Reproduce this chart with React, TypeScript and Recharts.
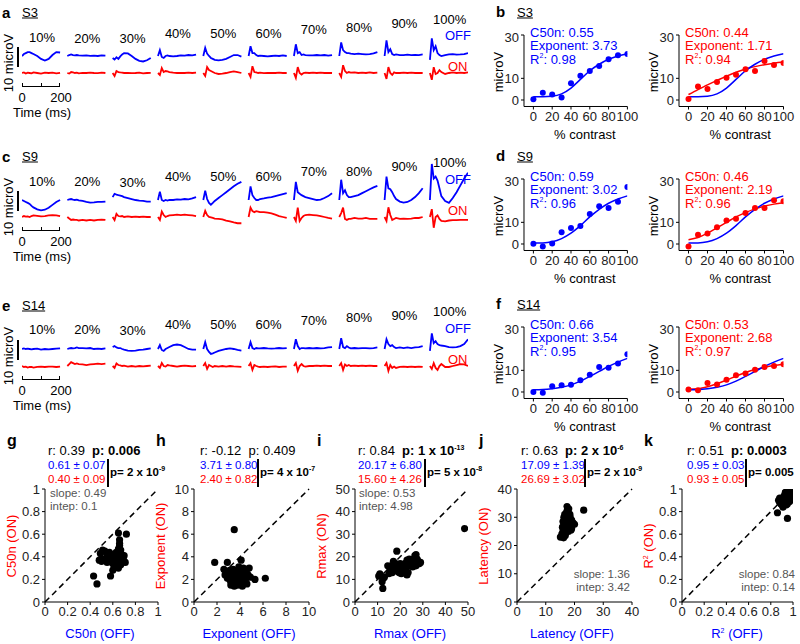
import React from "react"
import { LineChart, Line, ComposedChart, Scatter, ScatterChart, XAxis, YAxis, ReferenceLine } from "recharts"

const FONT = '"Liberation Sans", Arial, sans-serif'
const BLUE = "#0000ff"
const RED = "#ff0000"
const GRAY = "#555555"

// ---- VEP traces (microV) ----
const CONTRASTS = ["10%", "20%", "30%", "40%", "50%", "60%", "70%", "80%", "90%", "100%"]
const T_MS = [0, 10, 20, 30, 40, 50, 60, 80, 100, 120, 140, 160, 180, 200]

const A_OFF = [
    [0, 1, 1.5, 2, 2, 1.5, 1, 0, -1.5, -2.3, -1.5, 0.5, 2, 1.8],
    [0, 0.5, 0.8, 0.5, 0.3, 0.5, 0.3, 0.2, 0.3, 0.1, 0.2, 0, 0.3, 0.2],
    [-1, -1.8, -0.7, -1.5, -0.2, 0.8, 1.5, 1.3, 0, -1.5, -2.5, -2.8, -2.2, -1],
    [0, 3, -0.5, -1, 0, 0.3, 0, -0.2, 0, 0.3, 0.2, 0.5, 0.3, 0.7],
    [0, 4.2, 1.2, 0, -1, -1.5, -2, -2.2, -2, -1.5, -0.5, 0.5, 0.5, -0.3],
    [0, 5, 1.5, 1.5, 0.5, 0, 0.2, 0, -0.2, 0, 0.2, 0, 0.3, 0],
    [0, 6, 1.5, 2, 0.5, 0.8, 0.5, 0.3, 0.3, 0.5, 0.3, 0.5, 0.2, 0.5],
    [0, 7, 3, 2, 1.5, 1.5, 1.2, 1, 1.2, 1, 0.8, 1, 1.3, 2],
    [0, 8, 2, 3.5, 1, 0.5, 0.8, 0.5, 0.5, 0.7, 0.5, 0.6, 0.5, 0.8],
    [-2, 9, 3, 5, 1.5, 0.5, 0, 0.5, 0.8, 1, 0.7, 0.8, 1, 1.5],
]
const A_ON = [
    [0, 0.3, -0.3, 0.2, 0, -0.2, 0.3, 0, -0.3, 0.2, 0, 0.2, -0.2, 0.1],
    [0, -0.3, 0.5, 0.3, 0, 0.2, -0.2, 0.1, 0, 0.2, 0, -0.1, 0.2, 0],
    [0, -1.5, 1, 0.5, 0.3, 0.2, 0, 0.1, -0.1, 0, 0.2, -0.2, 0, 0.1],
    [0, -1, 2.5, 0.5, 1, 0.8, 0.5, 0.2, 0, 0.1, 0, 0.2, 0, 0.2],
    [0, -1.5, 3, 1.5, 1, 0.5, 0, -0.5, -0.3, 0, 0.5, 0.8, 0.5, 0],
    [0, -2, 3.5, 0.5, 0.3, 0, 0.2, -0.1, 0, 0.1, 0, 0.2, 0, 0],
    [0, -2.5, 3, 0, -0.8, 0, 0.2, 0, 0.2, 0, 0.2, 0, 0.1, 0],
    [0, -2, 4, 1, 0, 0.5, 0.2, 0.3, 0, 0.2, 0, 0.3, 0, 0.2],
    [0, -3, 3, 0, -1, 0.3, 0, 0, 0.2, 0, 0.2, 0, 0.1, 0],
    [0, -3.5, 3, -0.5, 0, 1.5, 0.5, -0.5, 0, 0.3, 0, 0.2, 0, 0.3],
]
const C_OFF = [
    [0, -0.5, -1, -1.5, -2, -3, -3.8, -4.8, -5.3, -5, -4, -2.5, -1, 0],
    [0, 0.3, 0.5, 0.2, 0, 0.2, -0.2, -0.5, -1, -1.3, -1.2, -1, -1, -0.8],
    [1.5, 3.2, 2.8, 2.5, 2.3, 2, 1.5, 1, 0.5, 0, -0.3, -0.5, -0.8, -0.8],
    [0, 4.3, 0, -0.5, 0, -0.3, 0, 0, 0.3, 0.2, 0.5, 0.3, 0.8, 1.5],
    [0, 4.8, 0.5, -1.5, -2.4, -1.5, -0.5, 1, 2.5, 4, 5.5, 7, 8.3, 9.3],
    [0, 7, 2.5, 1, 0, 0, 0.5, 0.8, 1.2, 1.5, 2, 2.5, 3, 3.5],
    [0, 9.3, 4, 3.2, 2.5, 2, 1.5, 1, 0.5, 0, 0.2, 1, 2, 3.5],
    [0, 10.4, 3.5, 5, 2.5, 1.5, 1.5, 2, 2.5, 3.5, 4.5, 5.5, 6.5, 7.2],
    [0, 12, 6, 5.5, 4, 2, 0.5, -0.8, -1.3, -1, 0, 1.5, 3.5, 6],
    [0, 18.5, 11, 12, 10, 6, 2, -0.5, -1.5, 1, 4, 7.5, 11, 14],
]
const C_ON = [
    [0, 0.5, 0.2, 0.3, 0, 0.5, 0.8, 0.6, 0.3, 0.5, 0.8, 1, 0.8, 0.5],
    [0, -0.8, -1.5, -1.3, -1.5, -1.5, -1.8, -1.5, -1.8, -1.5, -1.8, -1.5, -1.3, -1.5],
    [0, -1.6, 1.6, 0.5, 0.3, 0.5, 0, 0.3, 0, 0.2, 0, 0.2, 0, 0],
    [0, -1.5, 2.8, 1, 0, 0.5, 0.8, 1, 1.2, 1, 1.2, 1, 0.8, 0.5],
    [0, 3.2, 1, 0, -0.2, -0.5, -0.8, -1, -1.2, -1.8, -2.3, -2.8, -3.2, -3.2],
    [0, 4.8, 3, 2.5, 3, 2.8, 2.5, 2.5, 2.2, 1.8, 1.2, 0.5, 0, -0.5],
    [0, -2, 4.8, -2, -0.5, 0.5, 1, 1.2, 1, 0.8, 0.5, 0, -0.5, -0.8],
    [0, 2, 4.8, -1, -1.5, -1, -1, -0.5, -0.8, -0.8, -0.5, -1, -1, -1],
    [0, -2, 5, 1, -1.5, -1, -0.5, -1, -0.8, -1, -0.8, -0.5, -0.5, 0],
    [0, 4, -5.5, 0, 0.8, -1, -2, -2.2, -1.8, -1.6, -1.6, -1.5, -1.5, -1.5],
]
const E_OFF = [
    [0, 0.3, 0, 0.2, 0, -0.2, 0, 0.2, -0.3, 0, -0.2, 0, 0.2, 0.3],
    [0, 0.3, 0.5, 0.3, 0.5, 0.8, 0.5, 0.5, 0.3, 0.5, 0, 0.2, 0, 0.3],
    [1, 1.5, 0.8, 0.5, 0.5, 0, -0.3, -0.8, -1, -0.8, -0.5, -0.3, 0, 0.3],
    [0, 2, -0.5, -1, 0, 0.5, 1, 2, 2.3, 2, 1, 0, -0.3, -0.3],
    [0, 3.5, 0, -1.5, -2.5, -2.2, -1.8, -1, -0.5, 0, 0.3, 0, -0.5, -0.8],
    [0, 3.5, 0.5, 0, 0.5, 0.3, 0.3, 0.5, 0.3, 0.2, 0.3, 0.5, 0.3, 0.5],
    [0, 5, 1.5, 0, 0.5, 0.5, 0.3, 0.5, 0.3, 0.5, 0.3, 0.5, 0.8, 1],
    [0, 5.5, 1, 0.5, 1.5, 0.8, 0.3, 0.5, 0.3, 0.5, 0.5, 0.3, 0.5, 0.8],
    [0, 5, 2.5, 1.5, 2, 1, 0.5, 0.8, 0.5, 0.8, 0.5, 0.8, 1, 1.5],
    [-1, 8, 3, 4, 2.5, 2, 1.8, 1.5, 1, 0.8, 1, 1.5, 2.5, 5],
]
const E_ON = [
    [0, -0.5, -0.3, -0.8, -0.5, -0.5, -0.8, -0.5, -0.3, -0.5, -0.3, -0.3, -0.5, -0.3],
    [0, 1, 2, 1.5, 1, 1.3, 1, 0.8, 0.5, 0.8, 1, 1.2, 1, 1.2],
    [0, -1, 1.3, 0.5, 0.3, 0, 0.2, -0.3, 0, -0.3, 0, -0.2, 0, 0.2],
    [0, -1, 1.5, 0, -0.3, 0.5, 0.3, 0, -0.3, 0, 0.2, 0, -0.2, 0],
    [0, 1.5, -1.5, 0.5, 0, -0.5, 0, -0.3, 0, -0.3, 0, -0.2, -0.3, -0.5],
    [0, 1.5, -2, 0.5, 0, -0.3, -0.5, -0.3, -0.5, -0.3, -0.2, -0.5, -0.3, -0.3],
    [0, 1.5, -2.5, 0, 1, 0, -0.3, 0, 0, 0.2, 0, 0.2, 0, 0],
    [0, 1.5, -2, 0.8, 0, 0.5, 0, 0.2, 0, 0.2, 0, 0.2, 0, 0],
    [0, 1.5, -2.5, 0.5, -1, -0.3, -1, -0.5, -0.3, -0.5, -0.3, -0.5, -0.3, -0.5],
    [0, -1.5, 1.5, -1, -2, 0, 1, -0.5, -0.5, 0, 0.5, 1, 0.8, 0],
]
const A_LABEL_Y = [37, 38, 38, 33, 33, 33, 29, 27, 23, 19]
const C_LABEL_Y = [181, 181, 182, 176, 176, 176, 171, 171, 166, 162]
const E_LABEL_Y = [329, 329, 330, 324, 324, 324, 320, 317, 315, 311]

// ---- contrast response (b, d, f) ----
const CONTRAST_X = [0, 10, 20, 30, 40, 50, 60, 70, 80, 90, 100]
const B_OFF = [0.3, 3.4, 2.5, 1.2, 7.7, 11.2, 13.4, 15.7, 18.8, 20.6, 21.2]
const B_OFF_FIT = [1.5, 1.5, 1.7, 2.8, 5.5, 9.5, 13.5, 16.5, 18.8, 20.3, 21.3]
const B_ON = [0.5, 6.2, 5.1, 8.3, 10.3, 11.7, 14.2, 13.4, 18, 16.2, 17.1]
const B_ON_FIT = [2.5, 4.8, 7, 9, 11, 12.8, 14.3, 15.4, 16.3, 17, 17.5]
const D_OFF = [0.15, -1.1, 0.2, 5.4, 7.4, 8.3, 13.8, 17.4, 16.6, 19.5, 26.3]
const D_OFF_FIT = [0.5, 0.5, 1, 2.5, 5, 8.5, 12.5, 16, 18.8, 20.8, 22.2]
const D_ON = [-1.1, 4.3, 4.8, 7.7, 10.8, 11.7, 14.3, 16.6, 16.6, 20.2, 19.7]
const D_ON_FIT = [2, 3, 5, 7.5, 10, 12.5, 14.5, 16.2, 17.5, 18.4, 19]
const F_OFF = [0, -0.3, 2.6, 3.1, 3.4, 5.4, 8, 11.5, 11.2, 13.1, 17.4]
const F_OFF_FIT = [1, 1.1, 1.5, 2.2, 3.3, 5, 7.2, 9.5, 11.8, 13.8, 15.5]
const F_ON = [1.2, 0.8, 4.2, 3.5, 5.7, 7.7, 8.5, 10.3, 11.5, 12, 12.8]
const F_ON_FIT = [1.3, 1.5, 2.4, 3.8, 5.5, 7.3, 9, 10.4, 11.4, 12.2, 12.8]

// ---- population scatter (g-k): [OFF, ON] ----
const G_PTS = [
    [0.43, 0.23], [0.46, 0.16], [0.58, 0.23], [0.72, 0.6], [0.65, 0.61], [0.66, 0.55], [0.66, 0.5], [0.65, 0.47],
    [0.51, 0.46], [0.49, 0.43], [0.53, 0.45], [0.55, 0.42], [0.57, 0.44], [0.59, 0.42], [0.48, 0.37], [0.5, 0.36],
    [0.52, 0.38], [0.54, 0.37], [0.56, 0.39], [0.58, 0.37], [0.6, 0.4], [0.62, 0.39], [0.64, 0.41], [0.66, 0.43],
    [0.68, 0.42], [0.69, 0.39], [0.7, 0.36], [0.71, 0.35], [0.68, 0.35], [0.66, 0.37], [0.64, 0.34], [0.63, 0.32],
    [0.61, 0.3], [0.6, 0.28], [0.65, 0.3], [0.67, 0.33], [0.62, 0.36], [0.57, 0.36], [0.6, 0.34], [0.67, 0.46],
    [0.63, 0.44], [0.55, 0.35], [0.7, 0.41], [0.66, 0.52], [0.61, 0.37],
]
const H_PTS = [
    [3.5, 6.4], [1.8, 3.5], [2.9, 3.5], [4.1, 3.7], [6.2, 2.1], [5.3, 2.0],
    [2.6, 2.9], [2.8, 2.6], [3.0, 2.3], [3.1, 2.0], [3.2, 1.8], [3.3, 2.6], [3.4, 2.9], [3.5, 2.2], [3.6, 1.7],
    [3.7, 2.5], [3.8, 2.0], [3.9, 1.6], [4.0, 2.8], [4.1, 2.3], [4.2, 1.9], [4.3, 3.0], [4.4, 2.5], [4.5, 2.1],
    [4.6, 2.9], [4.7, 2.4], [4.8, 3.0], [4.9, 2.2], [3.2, 1.5], [3.5, 1.4], [3.8, 1.5], [4.2, 1.4], [2.9, 2.1],
    [3.3, 2.2], [3.6, 2.7], [4.0, 2.1], [4.5, 1.7], [3.1, 2.8], [3.9, 3.1], [4.3, 2.6], [3.4, 1.9], [3.7, 1.8],
    [2.7, 2.4], [4.6, 1.6],
]
const I_PTS = [
    [48.5, 32.5], [12.3, 6.0], [10.5, 11.5], [11, 12.5], [12.5, 10.5], [12, 9], [18.5, 22.5], [17, 18], [16, 16],
    [15, 12.5], [16.5, 13], [17.5, 15], [18, 14], [19, 16], [19.5, 13], [20, 15], [20.5, 12.5], [21, 16.5],
    [22, 17], [22.5, 15], [23, 18.5], [23.5, 13], [24, 16], [24.5, 18], [25, 17], [25.5, 15.5], [26, 19],
    [26.5, 20.5], [27, 21], [27.5, 19], [28, 18], [28.5, 17], [29, 17.5], [27, 16], [14.5, 16], [15.5, 14],
    [18, 17], [20, 17], [21, 14], [23, 12], [24, 19], [13, 11], [16, 15], [19, 13.5], [22, 16], [25, 18.5],
]
const J_PTS = [
    [23.2, 32.5], [17.4, 33.8], [18, 33], [17.8, 31.5], [15.1, 23], [16.2, 22.7], [16.8, 23.5], [15.6, 24],
    [16, 25], [16.5, 26], [17, 27], [17.5, 28], [18, 29], [18.5, 30], [17.2, 30.5], [16.8, 29], [17.6, 26.5],
    [18.2, 27.5], [19.5, 28], [20, 27.5], [19, 26], [18.8, 25.5], [17, 24.5], [16.4, 27.5], [16, 28.5],
    [16.6, 31], [17.3, 32], [18.4, 31], [19, 29], [17.9, 25], [16.9, 25.8], [17.7, 29.5], [15.8, 26.5],
    [16.3, 30], [18.6, 27],
]
const K_PTS = [
    [0.86, 0.79], [0.95, 0.74], [0.87, 0.9], [0.88, 0.88], [0.89, 0.91], [0.9, 0.89], [0.91, 0.92], [0.92, 0.9],
    [0.93, 0.93], [0.94, 0.91], [0.95, 0.95], [0.96, 0.94], [0.97, 0.97], [0.98, 0.98], [0.96, 0.97], [0.94, 0.96],
    [0.93, 0.88], [0.95, 0.87], [0.97, 0.92], [0.92, 0.94], [0.9, 0.86], [0.91, 0.84], [0.94, 0.86], [0.96, 0.9],
    [0.98, 0.95], [0.89, 0.87], [0.93, 0.97], [0.95, 0.92], [0.97, 0.89], [0.92, 0.87], [0.96, 0.99], [0.94, 0.94],
    [0.91, 0.89], [0.88, 0.92],
]

// ---- layout helpers ----
const PX_UV = 1.95
const ON_SHIFT = 17 / PX_UV
const GAP_MS = 238

type TxtProps = {
    x: number
    y: number
    size?: number
    color?: string
    bold?: boolean
    anchor?: "start" | "middle" | "end"
    rotate?: boolean
    underline?: boolean
    children: React.ReactNode
}

const Txt = ({ x, y, size = 13, color = "#000", bold, anchor = "start", rotate, underline, children }: TxtProps) => {
    const ax = anchor === "start" ? "0" : anchor === "middle" ? "-50%" : "-100%"
    return (
        <div
            style={{
                position: "absolute",
                left: x,
                top: y,
                fontSize: size,
                color,
                fontWeight: bold ? "bold" : "normal",
                whiteSpace: "nowrap",
                lineHeight: 1,
                textDecoration: underline ? "underline" : "none",
                transform: rotate ? "translate(-50%, -50%) rotate(-90deg)" : `translate(${ax}, -50%)`,
            }}
        >
            {children}
        </div>
    )
}

// superscript that does not grow the line box
const Sup = ({ children, size = 7 }: { children: React.ReactNode; size?: number }) => (
    <span style={{ fontSize: size, position: "relative", top: -size * 0.75, lineHeight: 0 }}>{children}</span>
)

const Bar = ({ x, y, w, h }: { x: number; y: number; w: number; h: number }) => (
    <div style={{ position: "absolute", left: x, top: y, width: w, height: h, background: "#000" }} />
)

const TraceRow = ({ baseline, off, on, labelY, tag, subject }: any) => (
    <>
        <Txt x={2} y={baseline - 44} size={15} bold>{tag}</Txt>
        <Txt x={22} y={baseline - 44} underline>{subject}</Txt>
        <div style={{ position: "absolute", left: 22, top: baseline - 45 }}>
            <LineChart width={446} height={75} margin={{ top: 0, right: 0, bottom: 0, left: 0 }}>
                <XAxis type="number" dataKey="x" domain={[0, 9 * GAP_MS + 200]} hide />
                <YAxis type="number" domain={[-30 / PX_UV, 45 / PX_UV]} hide allowDataOverflow />
                {off.map((vals: number[], i: number) => (
                    <Line
                        key={"off" + i}
                        data={T_MS.map((t, j) => ({ x: t + i * GAP_MS, v: vals[j] }))}
                        dataKey="v"
                        stroke={BLUE}
                        strokeWidth={1.8}
                        dot={false}
                        isAnimationActive={false}
                    />
                ))}
                {on.map((vals: number[], i: number) => (
                    <Line
                        key={"on" + i}
                        data={T_MS.map((t, j) => ({ x: t + i * GAP_MS, v: vals[j] - ON_SHIFT }))}
                        dataKey="v"
                        stroke={RED}
                        strokeWidth={1.8}
                        dot={false}
                        isAnimationActive={false}
                    />
                ))}
            </LineChart>
        </div>
        {CONTRASTS.map((c, i) => (
            <Txt key={c} x={22 + i * 45.3 + 20} y={labelY[i]} anchor="middle">{c}</Txt>
        ))}
        <Txt x={445} y={baseline - 21} color={BLUE}>OFF</Txt>
        <Txt x={448} y={baseline + 10} color={RED}>ON</Txt>
        <Bar x={17} y={baseline - 9} w={1.5} h={19.5} />
        <Txt x={8} y={baseline + 7} rotate>10 microV</Txt>
        <Bar x={22} y={baseline + 30} w={38} h={1} />
        <Bar x={22} y={baseline + 27} w={1} h={3} />
        <Bar x={41} y={baseline + 27} w={1} h={3} />
        <Bar x={59} y={baseline + 27} w={1} h={3} />
        <Txt x={22} y={baseline + 41} anchor="middle">0</Txt>
        <Txt x={61} y={baseline + 41} anchor="middle">200</Txt>
        <Txt x={13} y={baseline + 56}>Time (ms)</Txt>
    </>
)

const dotShape = (color: string, r: number) => (p: any) => <circle cx={p.cx} cy={p.cy} r={r} fill={color} />

const FitPlot = ({ pl, pt, pw, pts, fit, overlay, color, stats }: any) => {
    const ML = 30
    const MT = 6
    const MR = 14
    const XH = 22
    const ph = 71.5
    const dots = CONTRAST_X.map((x, i) => ({ x, y: pts[i] }))
    const curve = CONTRAST_X.map((x, i) => ({ x, y: fit[i] }))
    const over = overlay ? CONTRAST_X.map((x, i) => ({ x, y: overlay[i] })) : null
    return (
        <>
            <div style={{ position: "absolute", left: pl - ML, top: pt - MT }}>
                <ComposedChart width={pw + ML + MR} height={ph + MT + XH} margin={{ top: MT, right: MR, bottom: 0, left: 0 }}>
                    <XAxis
                        type="number"
                        dataKey="x"
                        domain={[-10, 100]}
                        ticks={[0, 20, 40, 60, 80, 100]}
                        interval={0}
                        height={XH}
                        tickSize={3}
                        tick={{ fontSize: 13, fill: "#222" }}
                        stroke="#000"
                        allowDataOverflow
                    />
                    <YAxis
                        type="number"
                        dataKey="y"
                        domain={[-3, 30]}
                        ticks={[0, 10, 20, 30]}
                        width={ML}
                        tickSize={3}
                        tick={{ fontSize: 13, fill: "#222" }}
                        stroke="#000"
                        allowDataOverflow
                    />
                    <Scatter data={dots} dataKey="y" shape={dotShape(color, 3)} isAnimationActive={false} />
                    <Line data={curve} dataKey="y" type="monotone" stroke={color} strokeWidth={1.5} dot={false} isAnimationActive={false} />
                    {over && (
                        <Line data={over} dataKey="y" type="monotone" stroke={BLUE} strokeWidth={1.5} dot={false} isAnimationActive={false} />
                    )}
                </ComposedChart>
            </div>
            <Txt x={pl + 6.5} y={pt - 3.5} color={color}>C50n: {stats[0]}</Txt>
            <Txt x={pl + 6.5} y={pt + 10} color={color}>Exponent: {stats[1]}</Txt>
            <Txt x={pl + 6.5} y={pt + 23.5} color={color}>
                R<Sup>2</Sup>: {stats[2]}
            </Txt>
            <Txt x={pl - 26} y={pt + 37} rotate>microV</Txt>
            <Txt x={pl + 9.5 + pw / 2} y={pt + 99} anchor="middle">% contrast</Txt>
        </>
    )
}

const FitRow = ({ top, tag, subject, off, offFit, on, onFit, offStats, onStats }: any) => (
    <>
        <Txt x={496} y={top - 24} size={15} bold>{tag}</Txt>
        <Txt x={517} y={top - 23} underline>{subject}</Txt>
        <FitPlot pl={523.6} pt={top} pw={103.4} pts={off} fit={offFit} color={BLUE} stats={offStats} />
        <FitPlot pl={678.5} pt={top} pw={104.5} pts={on} fit={onFit} overlay={offFit} color={RED} stats={onStats} />
    </>
)

const ScatterPanel = ({ pl, pw, max, ticks, pts, xLabel, yLabel, tag }: any) => {
    const pt = 489
    const ph = 113
    const ML = 34
    const MT = 6
    const MR = 8
    const XH = 22
    const data = pts.map((p: number[]) => ({ x: p[0], y: p[1] }))
    return (
        <>
            <Txt x={pl - 38} y={441} size={16} bold>{tag}</Txt>
            <div style={{ position: "absolute", left: pl - ML, top: pt - MT }}>
                <ScatterChart width={pw + ML + MR} height={ph + MT + XH} margin={{ top: MT, right: MR, bottom: 0, left: 0 }}>
                    <XAxis
                        type="number"
                        dataKey="x"
                        domain={[0, max]}
                        ticks={ticks}
                        interval={0}
                        height={XH}
                        tickSize={3}
                        tick={{ fontSize: 13, fill: "#222" }}
                        stroke="#000"
                        allowDataOverflow
                    />
                    <YAxis
                        type="number"
                        dataKey="y"
                        domain={[0, max]}
                        ticks={ticks}
                        interval={0}
                        width={ML}
                        tickSize={3}
                        tick={{ fontSize: 13, fill: "#222" }}
                        stroke="#000"
                        allowDataOverflow
                    />
                    <ReferenceLine
                        segment={[{ x: 0, y: 0 }, { x: max, y: max }]}
                        stroke="#000"
                        strokeWidth={1.5}
                        strokeDasharray="6 4"
                    />
                    <Scatter data={data} shape={dotShape("#000", 3.6)} isAnimationActive={false} />
                </ScatterChart>
            </div>
            <Txt x={pl + 55} y={633} anchor="middle" color={BLUE}>{xLabel}</Txt>
            <Txt x={pl - 34} y={546} rotate color={RED}>{yLabel}</Txt>
        </>
    )
}

const Stats = ({ x, bar, r, p, pBold, off, on, pDiff }: any) => (
    <>
        <Txt x={x} y={450}>
            r: {r}&nbsp;&nbsp;<span style={{ fontWeight: pBold ? "bold" : "normal" }}>p: {p}</span>
        </Txt>
        <Txt x={x} y={466} size={11.5} color={BLUE}>{off}</Txt>
        <Txt x={x} y={480} size={11.5} color={RED}>{on}</Txt>
        <Bar x={bar} y={459} w={1.5} h={28} />
        <Txt x={bar + 3} y={473} size={11.5} bold>{pDiff}</Txt>
    </>
)

const Slope = ({ x, y, anchor = "start", slope, intep }: any) => (
    <>
        <Txt x={x} y={y} size={11.5} color={GRAY} anchor={anchor}>slope: {slope}</Txt>
        <Txt x={x} y={y + 13} size={11.5} color={GRAY} anchor={anchor}>intep: {intep}</Txt>
    </>
)

export default function App() {
    return (
        <div style={{ position: "absolute", left: 0, top: 0, width: 800, height: 644, background: "#fff", fontFamily: FONT, overflow: "hidden" }}>
            <TraceRow baseline={56} off={A_OFF} on={A_ON} labelY={A_LABEL_Y} tag="a" subject="S3" />
            <TraceRow baseline={200} off={C_OFF} on={C_ON} labelY={C_LABEL_Y} tag="c" subject="S9" />
            <TraceRow baseline={349} off={E_OFF} on={E_ON} labelY={E_LABEL_Y} tag="e" subject="S14" />

            <FitRow top={35} tag="b" subject="S3" off={B_OFF} offFit={B_OFF_FIT} on={B_ON} onFit={B_ON_FIT}
                offStats={["0.55", "3.73", "0.98"]} onStats={["0.44", "1.71", "0.94"]} />
            <FitRow top={179} tag="d" subject="S9" off={D_OFF} offFit={D_OFF_FIT} on={D_ON} onFit={D_ON_FIT}
                offStats={["0.59", "3.02", "0.96"]} onStats={["0.46", "2.19", "0.96"]} />
            <FitRow top={327} tag="f" subject="S14" off={F_OFF} offFit={F_OFF_FIT} on={F_ON} onFit={F_ON_FIT}
                offStats={["0.66", "3.54", "0.95"]} onStats={["0.53", "2.68", "0.97"]} />

            <ScatterPanel pl={45} pw={113} max={1} ticks={[0, 0.2, 0.4, 0.6, 0.8, 1]} pts={G_PTS} tag="g"
                xLabel="C50n (OFF)" yLabel="C50n (ON)" />
            <ScatterPanel pl={194} pw={115} max={10} ticks={[0, 2, 4, 6, 8, 10]} pts={H_PTS} tag="h"
                xLabel="Exponent (OFF)" yLabel="Exponent (ON)" />
            <ScatterPanel pl={355} pw={113} max={50} ticks={[0, 10, 20, 30, 40, 50]} pts={I_PTS} tag="i"
                xLabel="Rmax (OFF)" yLabel="Rmax (ON)" />
            <ScatterPanel pl={517} pw={115} max={40} ticks={[0, 10, 20, 30, 40]} pts={J_PTS} tag="j"
                xLabel="Latency (OFF)" yLabel="Latency (ON)" />
            <ScatterPanel pl={682} pw={111} max={1} ticks={[0, 0.2, 0.4, 0.6, 0.8, 1]} pts={K_PTS} tag="k"
                xLabel={<>R<Sup>2</Sup> (OFF)</>} yLabel={<>R<Sup>2</Sup> (ON)</>} />

            <Stats x={48} bar={107} r="0.39" p="0.006" pBold off="0.61 ± 0.07" on="0.40 ± 0.09" pDiff={<>p= 2 x 10<Sup>-9</Sup></>} />
            <Slope x={50} y={494} slope="0.49" intep="0.1" />
            <Stats x={200} bar={257} r="-0.12" p="0.409" off="3.71 ± 0.80" on="2.40 ± 0.82" pDiff={<>p= 4 x 10<Sup>-7</Sup></>} />
            <Stats x={358} bar={424} r="0.84" p={<>1 x 10<Sup>-13</Sup></>} pBold off="20.17 ± 6.80" on="15.60 ± 4.26" pDiff={<>p= 5 x 10<Sup>-8</Sup></>} />
            <Slope x={359} y={494} slope="0.53" intep="4.98" />
            <Stats x={521} bar={584} r="0.63" p={<>2 x 10<Sup>-6</Sup></>} pBold off="17.09 ± 1.39" on="26.69 ± 3.02" pDiff={<>p= 2 x 10<Sup>-9</Sup></>} />
            <Slope x={630} y={575} anchor="end" slope="1.36" intep="3.42" />
            <Stats x={687} bar={745} r="0.51" p="0.0003" pBold off="0.95 ± 0.03" on="0.93 ± 0.05" pDiff="p= 0.005" />
            <Slope x={795} y={575} anchor="end" slope="0.84" intep="0.14" />
        </div>
    )
}
